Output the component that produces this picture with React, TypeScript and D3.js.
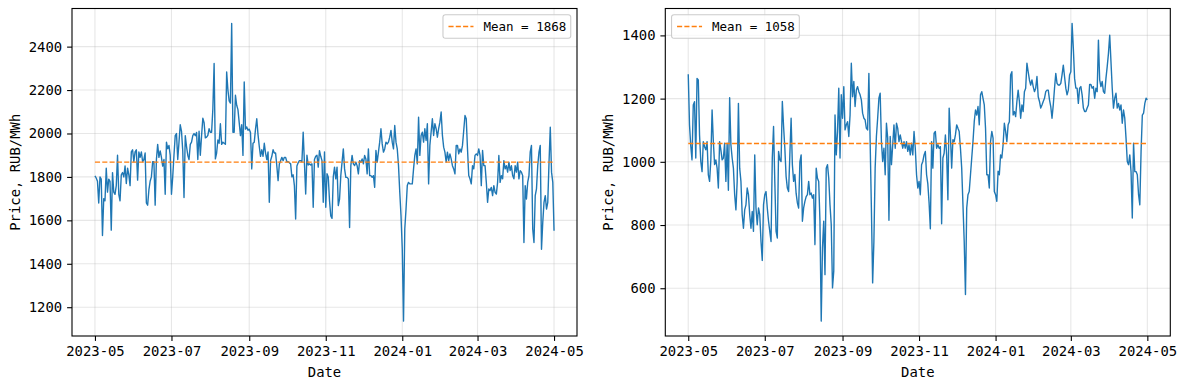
import React, { useEffect, useRef } from 'react';
import * as d3 from 'd3';

// daily prices, first value is 2023-05-01
const startDate = '2023-05-01';
const xTickLabels = ['2023-05', '2023-07', '2023-09', '2023-11', '2024-01', '2024-03', '2024-05'];
const leftYTicks = [1200, 1400, 1600, 1800, 2000, 2200, 2400];
const rightYTicks = [600, 800, 1000, 1200, 1400];
const leftMean = 1868;
const rightMean = 1058;

const leftPrices = [
  1805, 1795, 1780, 1680, 1800, 1790, 1530, 1700, 1690, 1840,
  1730, 1790, 1780, 1555, 1820, 1730, 1720, 1760, 1900, 1720,
  1690, 1810, 1820, 1800, 1850, 1770, 1840, 1810, 1760, 1915,
  1925, 1870, 1915, 1925, 1785, 1915, 1890, 1915, 1870, 1880,
  1910, 1680, 1670, 1740, 1780, 1800, 1870, 1870, 1670, 1880,
  1950, 1890, 1920, 1890, 1850, 1880, 1720, 1960, 1930, 1945,
  1900, 1720, 1800, 1900, 1990, 2000, 1880, 1960, 2040, 2010,
  1920, 1705, 1990, 1940, 1900, 1880, 1950, 1960, 1990, 2000,
  1990, 2005, 1880, 2010, 1900, 1990, 2070, 2050, 1980,
  1983, 1991, 2022, 2006, 2006, 2114, 2322, 1883, 1910, 1970, 1955,
  2045, 1950, 1960, 1955, 1950, 2283, 2200, 2150, 2140, 2507,
  2006, 2006, 2176, 2130, 2110, 2050, 1990, 2040, 1899, 2237,
  2020, 2030, 2015, 2020, 2005, 1837, 1955, 1960, 2020, 2068,
  1995, 1940, 1895, 1925, 1895, 1955, 1910, 1880, 1915, 1683,
  1875, 1895, 1925, 1910, 1910, 1850, 1783, 1860, 1875, 1890,
  1875, 1890, 1890, 1870, 1870, 1865, 1860, 1800, 1810, 1760,
  1606, 1850, 1865, 1875, 1875, 1870, 2006, 1865, 1721, 1900,
  1855, 1860, 1855, 1860, 1660, 1880, 1895, 1900, 1845, 1921,
  1895, 1875, 1683, 1915, 1660, 1815, 1800, 1690, 1620, 1609,
  1800, 1845, 1791, 1845, 1668, 1698, 1806, 1868, 1929, 1837,
  1798, 1798, 1791, 1567, 1852, 1899, 1860, 1852, 1868, 1852,
  1814, 1875, 1868, 1883, 1860, 1899, 1883, 1814, 1929, 1806,
  1806, 1798, 1806, 1752, 1922, 1868, 1914, 1960, 2022, 1952,
  1914, 1929, 1960, 1952, 1960, 1983, 2014, 1960, 1929, 2037,
  1960, 1929, 1852, 1729, 1621, 1467, 1136, 1560, 1652, 1760,
  1775, 1768, 1768, 1768, 1837, 1899, 1929, 1860, 2075, 1899,
  1991, 2006, 1960, 2022, 1968, 2045, 1768, 1945, 2006, 2068,
  1991, 2045, 2022, 1983, 2022, 2052, 2099, 1991, 1937, 1914,
  1868, 1914, 1875, 1906, 1883, 1852, 1837, 1814, 1945, 1945,
  1906, 1929, 1914, 1945, 2014, 2083, 2068, 1929, 1806, 1791,
  1768, 1852, 1837, 1899, 1906, 1899, 1929, 1899, 1760, 1922,
  1852, 1852, 1775, 1683, 1745, 1737, 1752, 1714, 1760, 1729,
  1721, 1775, 1899, 1775, 1806, 1791, 1875, 1837, 1852, 1822,
  1868, 1829, 1852, 1806, 1791, 1852, 1822, 1868, 1791, 1829,
  1822, 1806, 1498, 1760, 1698, 1775, 1806, 1914, 1945, 1560,
  1498, 1714, 1745, 1852, 1914, 1945, 1467, 1590, 1683, 1714,
  1652, 1683, 1868, 2029, 1822, 1775, 1552,
];

const rightPrices = [
  1277, 1117, 1050, 1006, 1180, 1190, 1012, 1264, 1259, 1085,
  1001, 969, 1064, 1048, 1038, 1064, 959, 938, 1006, 1164,
  1064, 991, 1006, 980, 917, 1064, 1038, 1006, 1012, 1059,
  938, 1059, 910, 1203, 1054, 1012, 980, 896, 848, 938,
  1185, 980, 938, 833, 790, 848, 864, 917, 896, 833,
  790, 843, 780, 1022, 854, 801, 854, 833, 748, 688,
  864, 896, 906, 854, 812, 780, 748, 1012, 1112, 938,
  780, 759, 1033, 1006, 1001, 1191, 1112, 1043, 954, 917,
  906, 1022, 1138, 991, 938, 960, 900, 870, 854, 1000,
  1022, 812, 854, 875, 890, 896, 938, 896, 901, 885,
  896, 738, 980, 948, 938, 812, 496, 727, 812, 643,
  980, 991, 948, 864, 801, 601, 654, 1148, 1022, 1096,
  1233, 1012, 1212, 1138, 1238, 1101, 1117, 1127, 1080, 1148,
  1312, 1206, 1254, 1175, 1227, 1238, 1222, 1212, 1196, 1154,
  1138, 1133, 1106, 1101, 1280, 1064, 854, 617, 748, 980,
  1080, 1138, 1201, 1217, 1064, 1001, 1043, 959, 1122, 1075,
  815, 1080, 991, 1054, 1117, 1043, 1122, 1106, 1064, 1085,
  1064, 1043, 1064, 1043, 1064, 1033, 1054, 1022, 1059, 1022,
  1096, 1043, 959, 917, 938, 896, 991, 1001, 1022, 1033,
  959, 930, 870, 788, 1064, 980, 1091, 1096, 1043, 1054,
  1043, 1048, 804, 1012, 1027, 1085, 1022, 880, 1170, 1085,
  980, 1070, 1064, 1085, 1117, 1106, 1096, 1043, 980, 864,
  748, 580, 854, 896, 906, 959, 1012, 1064, 1127, 1164,
  1148, 1175, 1117, 1212, 1222, 1201, 1180, 1106, 959, 959,
  917, 1064, 1096, 1075, 906, 896, 875, 970, 959, 1022,
  1012, 1054, 1122, 1096, 1064, 1117, 1127, 1275, 1285, 1148,
  1159, 1143, 1191, 1227, 1191, 1138, 1180, 1159, 1222, 1233,
  1312, 1285, 1259, 1243, 1259, 1238, 1222, 1233, 1270, 1206,
  1191, 1170, 1180, 1191, 1201, 1222, 1227, 1227, 1196, 1175,
  1138, 1180, 1233, 1280, 1248, 1243, 1243, 1248, 1275, 1306,
  1269, 1233, 1212, 1227, 1275, 1285, 1438, 1359, 1264, 1233,
  1233, 1185, 1233, 1238, 1212, 1170, 1159, 1159, 1170, 1180,
  1245, 1245, 1233, 1238, 1201, 1233, 1222, 1385, 1259, 1238,
  1254, 1222, 1217, 1264, 1301, 1343, 1401, 1317, 1233, 1170,
  1201, 1217, 1170, 1185, 1164, 1180, 1122, 1164, 1138, 1075,
  1001, 991, 1022, 969, 822, 1059, 969, 969, 959, 896,
  864, 1033, 1148, 1154, 1185, 1201, 1196,
];

const FONT = "'DejaVu Sans Mono', monospace";
const TICK_FS = 13.9;
const LEGEND_FS = 12.5;

function drawPanel(svg, { prices, mean, yTicks, left, right, top, bottom, legendAt }) {
  const start = new Date(startDate + 'T00:00:00Z');
  const dates = prices.map((_, i) => d3.utcDay.offset(start, i));
  const t0 = +dates[0];
  const t1 = +dates[dates.length - 1];
  const xPad = (t1 - t0) * 0.05;
  const x = d3.scaleUtc()
    .domain([new Date(t0 - xPad), new Date(t1 + xPad)])
    .range([left, right]);

  const [lo, hi] = d3.extent(prices);
  const yPad = (hi - lo) * 0.05;
  const y = d3.scaleLinear()
    .domain([lo - yPad, hi + yPad])
    .range([bottom, top]);

  const xTicks = xTickLabels.map(s => new Date(s + '-01T00:00:00Z'));

  const g = svg.append('g');

  // grid
  g.append('g').selectAll('line').data(xTicks).join('line')
    .attr('x1', d => x(d)).attr('x2', d => x(d))
    .attr('y1', top).attr('y2', bottom)
    .attr('stroke', '#b0b0b0').attr('stroke-opacity', 0.3).attr('stroke-width', 1.1);
  g.append('g').selectAll('line').data(yTicks).join('line')
    .attr('x1', left).attr('x2', right)
    .attr('y1', d => y(d)).attr('y2', d => y(d))
    .attr('stroke', '#b0b0b0').attr('stroke-opacity', 0.3).attr('stroke-width', 1.1);

  // price line
  const line = d3.line()
    .x((d, i) => x(dates[i]))
    .y(d => y(d));
  g.append('path')
    .datum(prices)
    .attr('d', line)
    .attr('fill', 'none')
    .attr('stroke', '#1f77b4')
    .attr('stroke-width', 1.39)
    .attr('stroke-linejoin', 'round');

  // mean
  g.append('line')
    .attr('x1', x(dates[0])).attr('x2', x(dates[dates.length - 1]))
    .attr('y1', y(mean)).attr('y2', y(mean))
    .attr('stroke', '#ff7f0e')
    .attr('stroke-width', 1.39)
    .attr('stroke-dasharray', '5.1,2.2');

  // frame
  g.append('rect')
    .attr('x', left).attr('y', top)
    .attr('width', right - left).attr('height', bottom - top)
    .attr('fill', 'none').attr('stroke', 'black').attr('stroke-width', 1.1);

  // axes
  const xAxis = g.append('g')
    .attr('transform', `translate(0,${bottom})`)
    .call(d3.axisBottom(x).tickValues(xTicks).tickFormat(d3.utcFormat('%Y-%m'))
      .tickSize(4.9).tickPadding(4.9));
  xAxis.select('.domain').remove();
  xAxis.selectAll('line').attr('stroke-width', 1.1);
  xAxis.selectAll('text').attr('font-size', TICK_FS).attr('font-family', FONT).attr('fill', 'black');

  const yAxis = g.append('g')
    .attr('transform', `translate(${left},0)`)
    .call(d3.axisLeft(y).tickValues(yTicks).tickFormat(d3.format('d'))
      .tickSize(4.9).tickPadding(4.9));
  yAxis.select('.domain').remove();
  yAxis.selectAll('line').attr('stroke-width', 1.1);
  yAxis.selectAll('text').attr('font-size', TICK_FS).attr('font-family', FONT).attr('fill', 'black');

  // axis labels
  g.append('text')
    .attr('x', (left + right) / 2)
    .attr('y', 377)
    .attr('text-anchor', 'middle')
    .attr('font-size', TICK_FS)
    .attr('font-family', FONT)
    .text('Date');

  const labelX = left - 52;
  g.append('text')
    .attr('transform', `translate(${labelX},${(top + bottom) / 2}) rotate(-90)`)
    .attr('text-anchor', 'middle')
    .attr('font-size', TICK_FS)
    .attr('font-family', FONT)
    .text('Price, RUB/MWh');

  // legend
  const label = `Mean = ${mean}`;
  const textW = label.length * 0.602 * LEGEND_FS;
  const boxW = 5 + 25 + 10 + textW + 5;
  const boxH = 23.5;
  const gap = LEGEND_FS / 2;
  const bx = legendAt === 'right' ? right - gap - boxW : left + gap;
  const by = top + gap;
  const legend = g.append('g').attr('transform', `translate(${bx},${by})`);
  legend.append('rect')
    .attr('width', boxW).attr('height', boxH)
    .attr('rx', 2.5)
    .attr('fill', 'white').attr('fill-opacity', 0.8)
    .attr('stroke', '#cccccc').attr('stroke-width', 1.1);
  legend.append('line')
    .attr('x1', 5.5).attr('x2', 30.5)
    .attr('y1', boxH / 2).attr('y2', boxH / 2)
    .attr('stroke', '#ff7f0e')
    .attr('stroke-width', 1.39)
    .attr('stroke-dasharray', '5.1,2.2');
  legend.append('text')
    .attr('x', 40.5)
    .attr('y', boxH / 2)
    .attr('dy', '0.35em')
    .attr('font-size', LEGEND_FS)
    .attr('font-family', FONT)
    .text(label);
}

export default function App() {
  const ref = useRef(null);

  useEffect(() => {
    const svg = d3.select(ref.current);
    svg.selectAll('*').remove();

    drawPanel(svg, {
      prices: leftPrices, mean: leftMean, yTicks: leftYTicks,
      left: 72, right: 577, top: 8.5, bottom: 336, legendAt: 'right',
    });
    drawPanel(svg, {
      prices: rightPrices, mean: rightMean, yTicks: rightYTicks,
      left: 665.3, right: 1170.3, top: 8.5, bottom: 336, legendAt: 'left',
    });
  }, []);

  return (
    <svg
      ref={ref}
      width={1186}
      height={389}
      style={{ position: 'absolute', left: 0, top: 0, background: 'white' }}
    />
  );
}
